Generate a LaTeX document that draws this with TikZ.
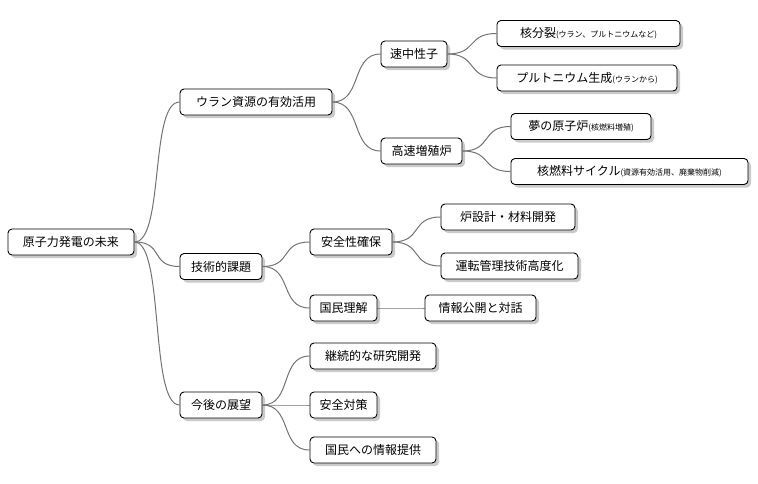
\documentclass[tikz,border=0pt]{standalone}
\usepackage{fontspec}
\setmainfont{Noto Sans CJK JP}
\usetikzlibrary{shadows}
\newcommand\smtxt[1]{{\fontsize{8}{9}\selectfont #1}}
\begin{document}
\begin{tikzpicture}[x=1pt,y=-1pt,
 box/.style={draw=black,line width=0.9pt,fill=white,rounded corners=4pt,minimum height=26pt,inner xsep=2pt,inner ysep=0pt,font=\fontsize{12}{14}\selectfont,drop shadow={shadow xshift=3pt,shadow yshift=-3pt,fill=black!35,opacity=0.6}},
 ln/.style={draw=black!55,line width=1pt}]
\useasboundingbox (0,0) rectangle (758,483);
\def\bx#1#2#3#4#5#6{\node[box,minimum width=#4-#2] (#1) at ({(#2+#4)/2},{(#3+#5)/2}) {#6};}
\bx{r}{8}{229}{134}{255}{原子力発電の未来}
\bx{u}{180}{89}{332}{115}{ウラン資源の有効活用}
\bx{s}{381}{41}{447}{67}{速中性子}
\bx{s1}{497}{20}{680}{47}{核分裂\smtxt{(ウラン、プルトニウムなど)}}
\bx{s2}{497}{65}{677}{91}{プルトニウム生成\smtxt{(ウランから)}}
\bx{k}{381}{138}{462}{164}{高速増殖炉}
\bx{k1}{511}{113}{651}{140}{夢の原子炉\smtxt{(核燃料増殖)}}
\bx{k2}{511}{158}{748}{185}{核燃料サイクル\smtxt{(資源有効活用、廃棄物削減)}}
\bx{g}{180}{253}{262}{280}{技術的課題}
\bx{a}{310}{229}{392}{255}{安全性確保}
\bx{a1}{441}{204}{575}{230}{炉設計・材料開発}
\bx{a2}{441}{253}{578}{279}{運転管理技術高度化}
\bx{m}{310}{295}{377}{321}{国民理解}
\bx{m1}{425}{295}{536}{321}{情報公開と対話}
\bx{t}{180}{392}{262}{418}{今後の展望}
\bx{t1}{310}{343}{436}{369}{継続的な研究開発}
\bx{t2}{310}{392}{377}{418}{安全対策}
\bx{t3}{310}{437}{436}{463}{国民への情報提供}
\foreach \p/\c in {r/u,r/g,r/t,u/s,u/k,s/s1,s/s2,k/k1,k/k2,g/a,g/m,a/a1,a/a2,m/m1,t/t1,t/t2,t/t3}{
 \draw[ln] (\p.east) .. controls ([xshift=30pt]\p.east) and ([xshift=-30pt]\c.west) .. (\c.west);}
\end{tikzpicture}
\end{document}
